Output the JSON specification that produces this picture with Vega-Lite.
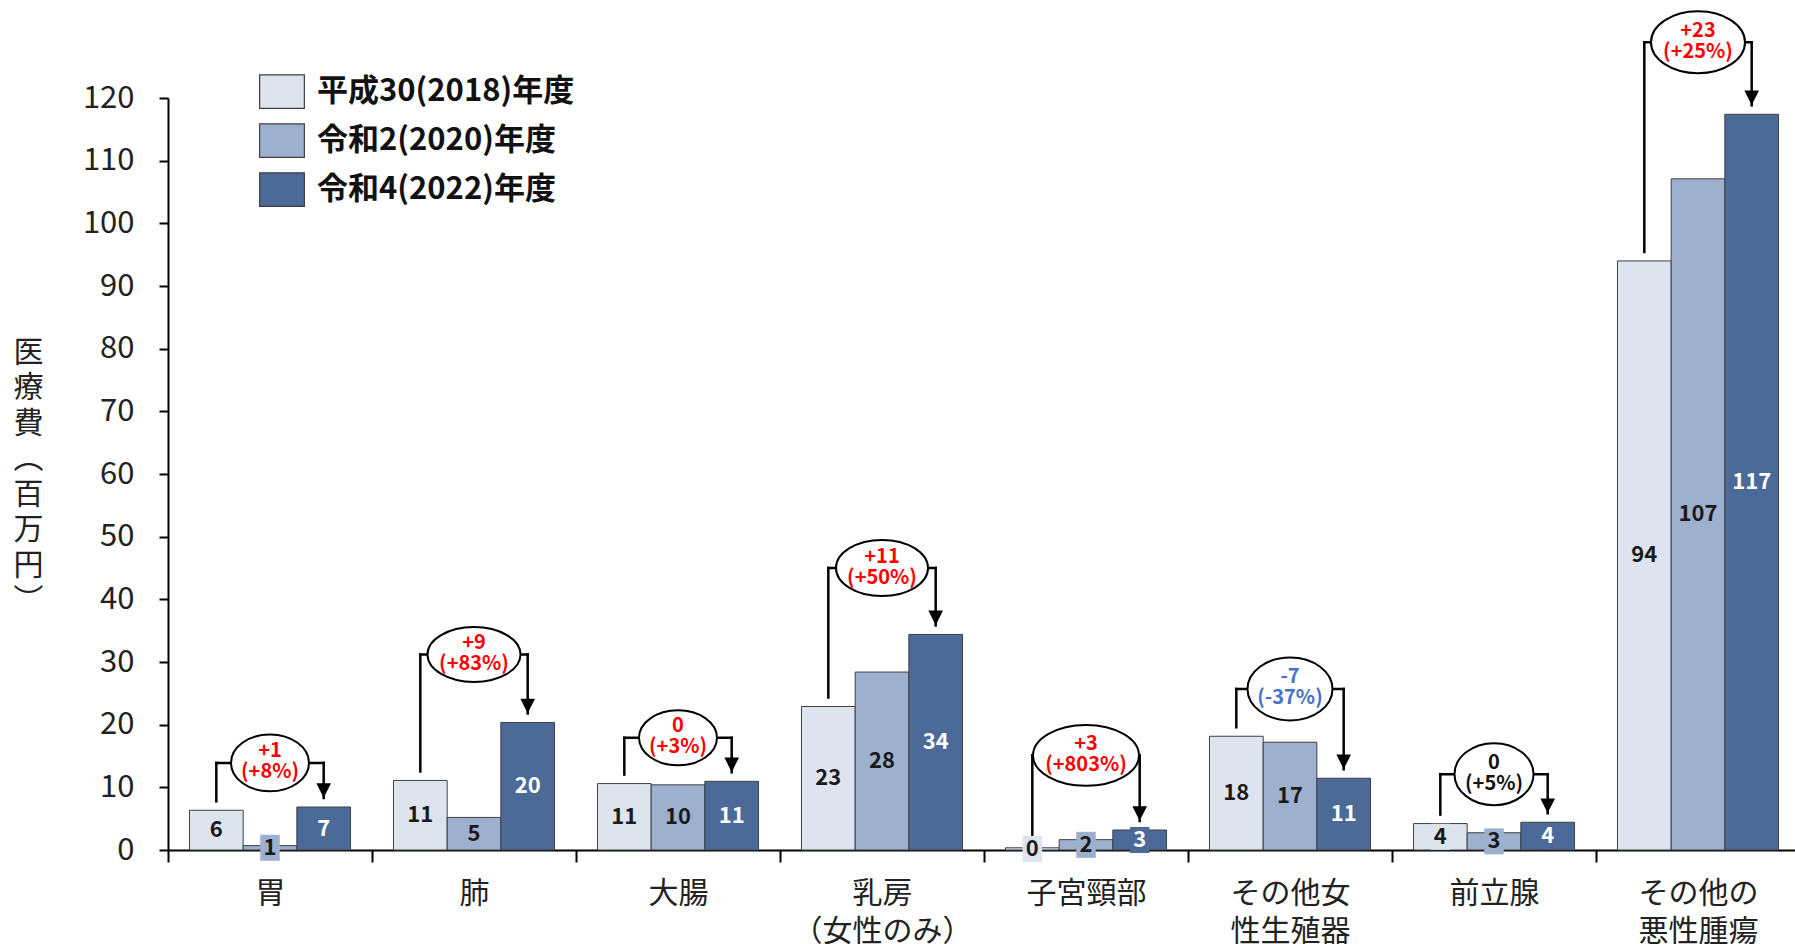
{
  "$schema": "https://vega.github.io/schema/vega-lite/v6.json",
  "width": 1627,
  "height": 752,
  "autosize": "none",
  "padding": {"left": 168, "top": 98, "right": 0, "bottom": 94},
  "background": "white",
  "config": {"view": {"stroke": null}, "font": "Noto Sans CJK JP"},
  "datasets": {
    "bars": [
      {"cat": "胃", "year": "平成30(2018)年度", "value": 6.34},
      {"cat": "胃", "year": "令和2(2020)年度", "value": 0.7},
      {"cat": "胃", "year": "令和4(2022)年度", "value": 6.86},
      {"cat": "肺", "year": "平成30(2018)年度", "value": 11.1},
      {"cat": "肺", "year": "令和2(2020)年度", "value": 5.2},
      {"cat": "肺", "year": "令和4(2022)年度", "value": 20.35},
      {"cat": "大腸", "year": "平成30(2018)年度", "value": 10.6},
      {"cat": "大腸", "year": "令和2(2020)年度", "value": 10.4},
      {"cat": "大腸", "year": "令和4(2022)年度", "value": 10.96},
      {"cat": "乳房\n（女性のみ）", "year": "平成30(2018)年度", "value": 22.9},
      {"cat": "乳房\n（女性のみ）", "year": "令和2(2020)年度", "value": 28.4},
      {"cat": "乳房\n（女性のみ）", "year": "令和4(2022)年度", "value": 34.4},
      {"cat": "子宮頸部", "year": "平成30(2018)年度", "value": 0.353},
      {"cat": "子宮頸部", "year": "令和2(2020)年度", "value": 1.65},
      {"cat": "子宮頸部", "year": "令和4(2022)年度", "value": 3.19},
      {"cat": "その他女\n性生殖器", "year": "平成30(2018)年度", "value": 18.15},
      {"cat": "その他女\n性生殖器", "year": "令和2(2020)年度", "value": 17.2},
      {"cat": "その他女\n性生殖器", "year": "令和4(2022)年度", "value": 11.45},
      {"cat": "前立腺", "year": "平成30(2018)年度", "value": 4.22},
      {"cat": "前立腺", "year": "令和2(2020)年度", "value": 2.75},
      {"cat": "前立腺", "year": "令和4(2022)年度", "value": 4.43},
      {"cat": "その他の\n悪性腫瘍", "year": "平成30(2018)年度", "value": 94.0},
      {"cat": "その他の\n悪性腫瘍", "year": "令和2(2020)年度", "value": 107.1},
      {"cat": "その他の\n悪性腫瘍", "year": "令和4(2022)年度", "value": 117.4}
    ],
    "notes": [
      {"cat": "胃", "bracket": 13.9, "note": "+1\n(+8%)"},
      {"cat": "肺", "bracket": 31.2, "note": "+9\n(+83%)"},
      {"cat": "大腸", "bracket": 17.9, "note": "0\n(+3%)"},
      {"cat": "乳房\n（女性のみ）", "bracket": 45.0, "note": "+11\n(+50%)"},
      {"cat": "子宮頸部", "bracket": 15.1, "note": "+3\n(+803%)"},
      {"cat": "その他女\n性生殖器", "bracket": 25.7, "note": "-7\n(-37%)"},
      {"cat": "前立腺", "bracket": 12.1, "note": "0\n(+5%)"},
      {"cat": "その他の\n悪性腫瘍", "bracket": 128.9, "note": "+23\n(+25%)"}
    ]
  },
  "layer": [
    {
      "data": {"name": "bars"},
      "encoding": {
        "x": {
          "field": "cat", "type": "nominal", "sort": null,
          "scale": {"paddingInner": 0, "paddingOuter": 0, "range": [0, 1632]},
          "axis": {
            "title": null, "labelAngle": 0, "tickBand": "extent",
            "labelExpr": "split(datum.label, '\\n')",
            "labelFontSize": 30, "labelLineHeight": 38, "labelPadding": 16,
            "labelColor": "#222222", "tickSize": 12, "tickWidth": 2, "tickColor": "black",
            "domainColor": "black", "domainWidth": 2, "grid": false
          }
        }
      },
      "layer": [
        {
          "mark": {"type": "bar", "stroke": "#404040", "strokeWidth": 1},
          "encoding": {
            "xOffset": {"field": "year", "type": "nominal", "sort": null,
              "scale": {"paddingInner": 0, "paddingOuter": 0.4}},
            "y": {
              "field": "value", "type": "quantitative",
              "scale": {"domain": [0, 120], "nice": false},
              "axis": {
                "values": [0, 10, 20, 30, 40, 50, 60, 70, 80, 90, 100, 110, 120],
                "title": ["医", "療", "費", "︵", "百", "万", "円", "︶"],
                "titleAngle": 0, "titleX": -140, "titleY": 254,
                "titleAlign": "center", "titleBaseline": "middle",
                "titleFontSize": 30, "titleFontWeight": "normal", "titleLineHeight": 35.5,
                "titleColor": "#222222",
                "labelFontSize": 31, "labelColor": "#222222", "labelPadding": 25,
                "tickSize": 9, "tickWidth": 2, "tickColor": "black",
                "domainColor": "black", "domainWidth": 2, "grid": false
              }
            },
            "fill": {
              "field": "year", "type": "nominal", "sort": null,
              "scale": {"range": ["#DEE4EE", "#9DB0CE", "#4B6A98"]},
              "legend": {
                "orient": "none", "legendX": 91, "legendY": -29.4, "title": null,
                "symbolType": "M-1,-0.75H1V0.75H-1Z", "symbolSize": 2000,
                "symbolStrokeColor": "#404040", "symbolStrokeWidth": 1.2, "symbolOpacity": 1,
                "labelFontSize": 31, "labelFontWeight": "bold", "labelColor": "#111111",
                "labelOffset": 12, "rowPadding": 6, "padding": 0, "labelLimit": 0
              }
            }
          }
        },
        {
          "transform": [
            {"lookup": "cat", "from": {"data": {"name": "notes"}, "key": "cat", "fields": ["bracket"]}},
            {"filter": "datum.year != '令和2(2020)年度'"}
          ],
          "mark": {"type": "rule", "color": "black", "strokeWidth": 2.5, "strokeCap": "square", "yOffset": -9},
          "encoding": {
            "xOffset": {"field": "year", "type": "nominal", "sort": null},
            "y": {"field": "value", "type": "quantitative"},
            "y2": {"field": "bracket"}
          }
        },
        {
          "data": {"name": "notes"},
          "mark": {"type": "tick", "orient": "horizontal", "color": "black", "size": 109.8, "thickness": 2.5, "opacity": 1},
          "encoding": {
            "y": {"field": "bracket", "type": "quantitative"}
          }
        },
        {
          "transform": [{"filter": "datum.year == '令和4(2022)年度'"}],
          "mark": {"type": "point", "shape": "M-1,-1L1,-1L0,1Z", "size": 215, "filled": true, "color": "black", "opacity": 1, "yOffset": -16.5},
          "encoding": {
            "xOffset": {"field": "year", "type": "nominal", "sort": null},
            "y": {"field": "value", "type": "quantitative"}
          }
        },
        {
          "data": {"name": "notes"},
          "mark": {"type": "point", "filled": true, "fill": "white", "stroke": "black", "strokeWidth": 2, "opacity": 1},
          "encoding": {
            "y": {"field": "bracket", "type": "quantitative"},
            "shape": {
              "field": "cat", "type": "nominal", "legend": null,
              "scale": {
                "domain": ["胃", "肺", "大腸", "乳房\n（女性のみ）", "子宮頸部", "その他女\n性生殖器", "前立腺", "その他の\n悪性腫瘍"],
                "range": [
                  "M-1,0A1,0.73 0 1,1 1,0A1,0.73 0 1,1 -1,0Z",
                  "M-1,0A1,0.59 0 1,1 1,0A1,0.59 0 1,1 -1,0Z",
                  "M-1,0A1,0.705 0 1,1 1,0A1,0.705 0 1,1 -1,0Z",
                  "M-1,0A1,0.61 0 1,1 1,0A1,0.61 0 1,1 -1,0Z",
                  "M-1,0A1,0.575 0 1,1 1,0A1,0.575 0 1,1 -1,0Z",
                  "M-1,0A1,0.74 0 1,1 1,0A1,0.74 0 1,1 -1,0Z",
                  "M-1,0A1,0.785 0 1,1 1,0A1,0.785 0 1,1 -1,0Z",
                  "M-1,0A1,0.66 0 1,1 1,0A1,0.66 0 1,1 -1,0Z"
                ]
              }
            },
            "size": {
              "field": "cat", "type": "nominal", "legend": null,
              "scale": {
                "type": "ordinal",
                "domain": ["胃", "肺", "大腸", "乳房\n（女性のみ）", "子宮頸部", "その他女\n性生殖器", "前立腺", "その他の\n悪性腫瘍"],
                "range": [6084, 8649, 6084, 8464, 11236, 7225, 6241, 8836]
              }
            }
          }
        },
        {
          "data": {"name": "notes"},
          "mark": {"type": "text", "lineBreak": "\n", "fontSize": 20, "fontWeight": "bold", "lineHeight": 21, "baseline": "middle", "align": "center", "dy": -11.5},
          "encoding": {
            "y": {"field": "bracket", "type": "quantitative"},
            "text": {"field": "note"},
            "color": {
              "condition": [
                {"test": "datum.cat == '前立腺'", "value": "#111111"},
                {"test": "indexof(datum.note, '-') == 0", "value": "#4472C4"}
              ],
              "value": "#FF0000"
            }
          }
        }
      ]
    },
    {
      "data": {"name": "bars"},
      "encoding": {
        "x": {"field": "cat", "type": "nominal", "sort": null},
        "xOffset": {"field": "year", "type": "nominal", "sort": null},
        "y": {"field": "value", "type": "quantitative", "scale": {"domain": [0, 240], "nice": false}, "axis": null}
      },
      "layer": [
        {
          "mark": {"type": "point", "shape": "M-0.75,-1H0.75V1H-0.75Z", "size": 676, "filled": true, "opacity": 1, "strokeWidth": 0},
          "encoding": {
            "fill": {"field": "year", "type": "nominal", "sort": null}
          }
        },
        {
          "mark": {"type": "text", "fontSize": 22, "fontWeight": "bold", "baseline": "middle", "align": "center"},
          "encoding": {
            "text": {"field": "value", "type": "quantitative", "format": ".0f"},
            "color": {
              "condition": {"test": "datum.year == '令和4(2022)年度'", "value": "white"},
              "value": "#1A1A1A"
            }
          }
        }
      ]
    }
  ],
  "resolve": {"scale": {"y": "independent"}}
}
